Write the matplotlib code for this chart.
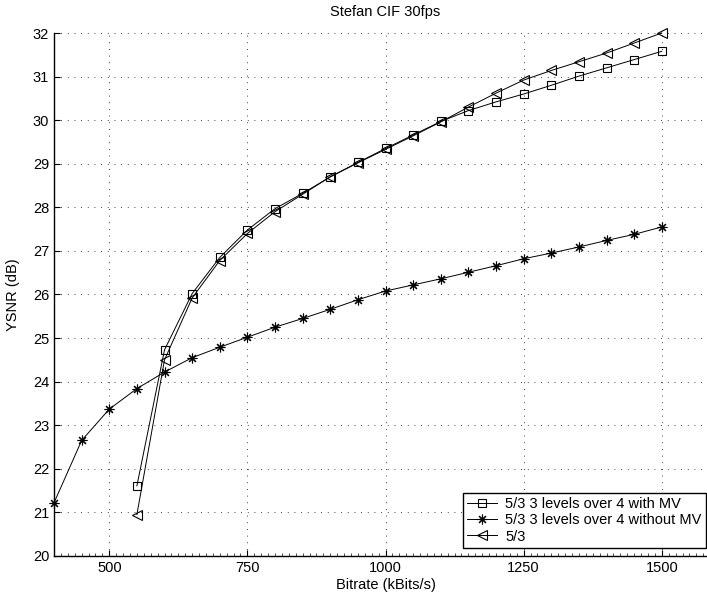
import matplotlib
matplotlib.use("Agg")
import matplotlib.pyplot as plt
import numpy as np
from matplotlib.ticker import FixedLocator

plt.rcParams['font.family'] = ['Liberation Sans', 'DejaVu Sans']

# bitrates (kBits/s)
rate_mv = [550, 600, 650, 700, 750, 800, 850, 900, 950, 1000, 1050, 1100,
           1150, 1200, 1250, 1300, 1350, 1400, 1450, 1500]
rate_nomv = [400, 450, 500, 550, 600, 650, 700, 750, 800, 850, 900, 950, 1000,
             1050, 1100, 1150, 1200, 1250, 1300, 1350, 1400, 1450, 1500]

# YSNR (dB)
ysnr_mv = [21.61, 24.73, 26.02, 26.85, 27.48, 27.97, 28.32, 28.70, 29.03, 29.35,
           29.66, 29.97, 30.22, 30.42, 30.60, 30.80, 31.01, 31.20, 31.39, 31.58]
ysnr_nomv = [21.22, 22.65, 23.37, 23.84, 24.22, 24.55, 24.79, 25.02, 25.25, 25.45,
             25.66, 25.88, 26.08, 26.22, 26.36, 26.51, 26.66, 26.82, 26.95, 27.09,
             27.24, 27.38, 27.55]
ysnr_53 = [20.95, 24.50, 25.92, 26.78, 27.40, 27.90, 28.30, 28.70, 29.02, 29.33,
           29.64, 29.96, 30.30, 30.62, 30.92, 31.14, 31.34, 31.54, 31.77, 32.00]

labels = ['5/3 3 levels over 4 with MV', '5/3 3 levels over 4 without MV', '5/3']
xticks = [500, 750, 1000, 1250, 1500]
yticks = list(range(20, 33))

fs = 10.5

fig = plt.figure(figsize=(7.07, 5.99), dpi=100)
ax = fig.add_axes([0.0764, 0.0718, 0.9378, 0.8731])

ax.plot(rate_mv, ysnr_mv, color='k', lw=0.7, marker='s', ms=5.5,
        mfc='none', mec='k', mew=0.8, label=labels[0])
ax.plot(rate_nomv, ysnr_nomv, color='k', lw=0.7, marker=(8, 2, 0), ms=7,
        mec='k', mew=0.8, label=labels[1])
ax.plot(rate_mv, ysnr_53, color='k', lw=0.7, marker='<', ms=7.5,
        mfc='none', mec='k', mew=0.8, label=labels[2])
for ln in ax.lines:
    ln.set_clip_on(False)

ax.set_xlim(400, 1600)
ax.set_ylim(20, 32)
ax.set_xticks(xticks)
ax.set_yticks(yticks)
# small ticks along the bottom axis only
ax.xaxis.set_minor_locator(FixedLocator(np.arange(412.5, 1580, 12.5)))
ax.tick_params(axis='both', which='major', direction='in', length=4,
               width=0.8, labelsize=fs, top=False, right=False)
ax.tick_params(axis='x', which='minor', direction='in', length=2, width=0.5)

# dotted grid
for xv in xticks:
    ax.axvline(xv, color='k', linestyle=(0, (1, 7)), linewidth=0.6, zorder=0.5)
for yv in yticks:
    ax.axhline(yv, color='k', linestyle=(0, (1, 7)), linewidth=0.6, zorder=0.5)

ax.spines['top'].set_visible(False)
ax.spines['right'].set_visible(False)
for s in ('left', 'bottom'):
    ax.spines[s].set_linewidth(1.0)

ax.set_title('Stefan CIF 30fps', fontsize=fs, pad=12)
ax.set_xlabel('Bitrate (kBits/s)', fontsize=fs, labelpad=2)
ax.set_ylabel('YSNR (dB)', fontsize=fs, labelpad=9)

leg = ax.legend(loc='lower left', bbox_to_anchor=(0.617, 0.0155), fontsize=fs,
                frameon=True, fancybox=False, edgecolor='k', framealpha=1,
                borderpad=0.3, labelspacing=0.15, handlelength=2.0,
                handletextpad=0.6, borderaxespad=0)
leg.get_frame().set_linewidth(1.0)

fig.savefig('out.png', dpi=100)
